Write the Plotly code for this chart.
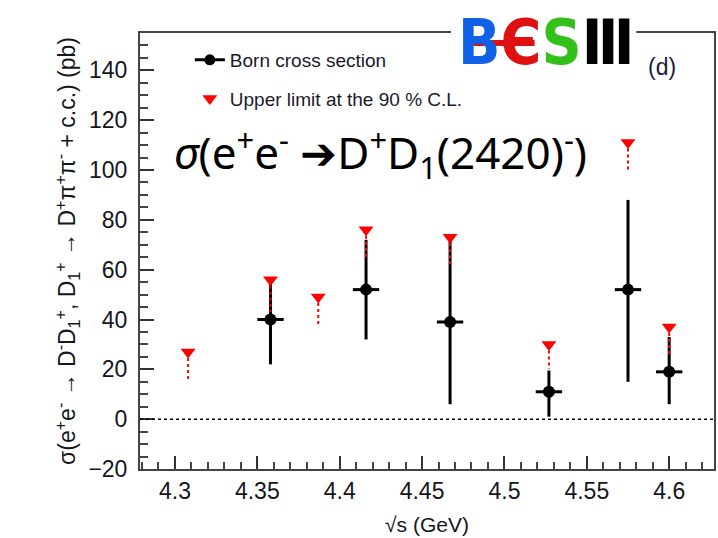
import plotly.graph_objects as go

# ---- data ----
born_energy = [4.358, 4.416, 4.467, 4.527, 4.575, 4.600]
born_xsec = [40, 52, 39, 11, 52, 19]
born_err_up = [17, 20, 33, 8.5, 36, 14]
born_err_down = [18, 20, 33, 10, 37, 13]
energy_halfwidth = [0.008, 0.008, 0.008, 0.008, 0.008, 0.008]

ul_energy = [4.308, 4.358, 4.387, 4.416, 4.467, 4.527, 4.575, 4.600]
ul_value = [27, 56, 49, 76, 73, 30, 111, 37]
ul_line_low = [15, 43, 38, 64, 61, 20, 99, 25]

x_tickvals = [4.3, 4.35, 4.4, 4.45, 4.5, 4.55, 4.6]
x_ticktext = ["4.3", "4.35", "4.4", "4.45", "4.5", "4.55", "4.6"]
y_tickvals = [-20, 0, 20, 40, 60, 80, 100, 120, 140]

W, H = 718, 538
L, R, T, B = 140, 2, 33, 69

def px(xp):
    return (xp - L) / (W - L - R)

def py(yp):
    return (H - B - yp) / (H - T - B)

fig = go.Figure()

# Born cross section with error bars
fig.add_trace(go.Scatter(
    x=born_energy, y=born_xsec, mode="markers",
    marker=dict(symbol="circle", size=12, color="black"),
    error_y=dict(type="data", symmetric=False, array=born_err_up,
                 arrayminus=born_err_down, color="black", thickness=3, width=0),
    error_x=dict(type="data", array=energy_halfwidth, color="black",
                 thickness=3, width=0),
    showlegend=False,
))

# dotted red lines under the upper limits
lx, ly = [], []
for e, v, lo in zip(ul_energy, ul_value, ul_line_low):
    lx += [e, e, None]
    ly += [v, lo, None]
fig.add_trace(go.Scatter(
    x=lx, y=ly, mode="lines",
    line=dict(color="red", width=2, dash="3px,3px"),
    showlegend=False, hoverinfo="skip",
))

# upper limit markers
fig.add_trace(go.Scatter(
    x=ul_energy, y=ul_value, mode="markers",
    marker=dict(symbol="triangle-down", size=13, color="red"),
    showlegend=False,
))

# legend entries
fig.add_trace(go.Scatter(
    x=[None], y=[None], mode="lines+markers", name="Born cross section",
    line=dict(color="black", width=3),
    marker=dict(symbol="circle", size=11, color="black"),
    legendgroup="a",
))
fig.add_trace(go.Scatter(
    x=[None], y=[None], mode="markers", name="Upper limit at the 90 % C.L.",
    marker=dict(symbol="triangle-down", size=13, color="red"),
    legendgroup="b",
))

tickfont = dict(family="Liberation Sans, Arial, sans-serif", size=23, color="#151520")

fig.update_xaxes(
    range=[4.2788, 4.6272], tickvals=x_tickvals, ticktext=x_ticktext,
    ticks="inside", ticklen=13, tickwidth=2, tickcolor="#333",
    minor=dict(dtick=0.01, ticks="inside", ticklen=7, tickwidth=2, tickcolor="#444"),
    showline=True, linecolor="#444", linewidth=2, mirror=True,
    showgrid=False, zeroline=False, tickfont=tickfont, ticklabelstandoff=0,
    title=dict(text="√s (GeV)", font=dict(family="Liberation Sans, Arial, sans-serif",
                                          size=21, color="#151520"), standoff=15),
)
fig.update_yaxes(
    range=[-20, 155], tickvals=y_tickvals,
    ticks="inside", ticklen=14, tickwidth=2, tickcolor="#333",
    minor=dict(dtick=5, ticks="inside", ticklen=8, tickwidth=2, tickcolor="#444"),
    showline=True, linecolor="#444", linewidth=2, mirror=True,
    showgrid=False, zeroline=False, tickfont=tickfont, ticklabelstandoff=6,
    title=dict(text="σ(e<sup>+</sup>e<sup>-</sup> → D<sup>-</sup>D<sub>1</sub><sup>+</sup>, "
                    "D<sub>1</sub><sup>+</sup> → D<sup>+</sup>π<sup>+</sup>π<sup>-</sup> + c.c.) (pb)",
               font=dict(family="Liberation Sans, Arial, sans-serif", size=23, color="#151520"),
               standoff=6),
)

fig.update_layout(
    width=W, height=H,
    margin=dict(l=L, r=R, t=T, b=B),
    paper_bgcolor="white", plot_bgcolor="white",
    legend=dict(x=px(190), y=py(41), xanchor="left", yanchor="top",
                font=dict(family="Liberation Sans, Arial, sans-serif", size=19, color="#1a1a2a"),
                bgcolor="rgba(0,0,0,0)", traceorder="grouped", tracegroupgap=11),
    shapes=[
        dict(type="line", xref="paper", yref="y", x0=0, x1=1, y0=0, y1=0,
             line=dict(color="black", width=1.5, dash="dot"), layer="above"),
        dict(type="rect", xref="paper", yref="paper", x0=px(452), x1=px(638),
             y0=py(38), y1=py(28), fillcolor="white", line=dict(width=0), layer="above"),
        dict(type="rect", xref="paper", yref="paper", x0=px(471), x1=px(536),
             y0=py(46), y1=py(40), fillcolor="#e01010", line=dict(width=0), layer="above"),
    ],
    annotations=[
        dict(xref="paper", yref="paper", x=px(172), y=py(153), xanchor="left", yanchor="middle",
             showarrow=False,
             text="<i>σ</i>(e<sup>+</sup>e<sup>-</sup> ➔D<sup>+</sup>D<sub>1</sub>(2420)<sup>-</sup>)",
             font=dict(family="Noto Sans, Open Sans, sans-serif", size=44, color="black")),
        dict(xref="paper", yref="paper", x=px(547), y=py(43), xanchor="center", yanchor="middle",
             showarrow=False,
             text="<b><span style='color:#1060e8'>B</span><span style='color:#e01010'>Є</span>"
                  "<span style='color:#33c01a'>S</span><span style='color:black'>Ⅲ</span></b>",
             font=dict(family="DejaVu Sans Condensed, DejaVu Sans, sans-serif", size=62)),
        dict(xref="paper", yref="paper", x=px(664), y=py(67), xanchor="center", yanchor="middle",
             showarrow=False, text="(d)",
             font=dict(family="Liberation Sans, Arial, sans-serif", size=23, color="#1b1b3b")),
    ],
)

fig.write_html("out.html")
